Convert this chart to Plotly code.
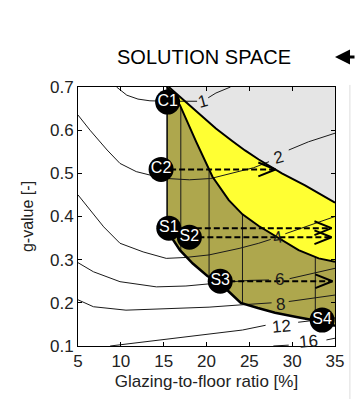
import numpy as np
import plotly.graph_objects as go

# --- region boundaries (glazing-to-floor ratio [%], g-value [-]) ---
upper_x = [15.6, 17.2, 19.2, 21.1, 23.0, 24.5, 26.1, 28.8, 31.5, 35.0]
upper_y = [0.700, 0.672, 0.637, 0.604, 0.575, 0.553, 0.532, 0.500, 0.472, 0.432]

mid_x = [15.4, 16.9, 18.8, 20.7, 22.6, 24.2, 26.1, 28.4, 30.75, 33.1, 35.0]
mid_y = [0.700, 0.658, 0.573, 0.492, 0.438, 0.405, 0.378, 0.350, 0.322, 0.303, 0.295]

low_x = [15.4, 15.9, 16.9, 18.4, 20.1, 21.6, 22.5, 24.0, 26.0, 28.0, 30.5, 33.0, 35.0]
low_y = [0.375, 0.352, 0.322, 0.291, 0.262, 0.245, 0.228, 0.200, 0.188, 0.177, 0.167, 0.158, 0.147]

olive_left = 15.4
olive_grid_x = [17.0, 20.3, 24.2, 32.7]

# --- contour lines (None = break for the inline label) ---
contours = {
    "1": ([9.5, 10.7, 12.0, 13.4, 15.4, 17.0, 18.9, None, 20.2, 21.1, 22.8],
          [0.700, 0.681, 0.672, 0.668, 0.667, 0.667, 0.667, None, 0.675, 0.686, 0.700]),
    "2": ([5, 6.4, 8.4, 9.9, 11.8, 13.4, 15.4, 18, 20.5, 23, 25.5, 27.3, None, 29.6, 31.9, 35],
          [0.635, 0.600, 0.554, 0.523, 0.504, 0.496, 0.488, 0.485, 0.488, 0.500, 0.513, 0.527, None, 0.554, 0.573, 0.593]),
    "4": ([5, 6.4, 8.0, 9.9, 12.6, 15.3, 17.5, 20.3, 23.8, 26.1, 27.5, None, 29.2, 31, 35],
          [0.450, 0.415, 0.376, 0.338, 0.318, 0.303, 0.305, 0.311, 0.326, 0.338, 0.347, None, 0.360, 0.372, 0.400]),
    "6": ([5, 6.8, 9.9, 14.15, 17.6, 20.3, 22.5, 25, 27.3, None, 29.7, 32, 35],
          [0.293, 0.272, 0.249, 0.237, 0.239, 0.243, 0.248, 0.252, 0.253, None, 0.256, 0.266, 0.280]),
    "8": ([5, 6.8, 10.6, 15.7, 20.3, 23.8, 27.6, None, 29.6, 32, 35],
          [0.207, 0.191, 0.183, 0.186, 0.190, 0.195, 0.200, None, 0.203, 0.210, 0.218]),
    "12": ([8.75, 12, 16, 20, 24.2, 26.9, None, 30.7, 33, 35],
           [0.100, 0.108, 0.117, 0.126, 0.137, 0.148, None, 0.155, 0.160, 0.165]),
    "16": ([27.8, 29.6, None, 34.0, 35],
           [0.100, 0.102, None, 0.114, 0.118]),
}
label_x = {"1": 19.5, "2": 28.4, "4": 28.3, "6": 28.5, "8": 28.6, "12": 28.8, "16": 31.9}
label_y = {"1": 0.667, "2": 0.537, "4": 0.352, "6": 0.253, "8": 0.197, "12": 0.146, "16": 0.110}
label_rot = {"1": -15, "2": -15, "4": -10, "6": 0, "8": -5, "12": -5, "16": -5}

# --- design points and their projections ---
pt_names = ["C1", "C2", "S1", "S2", "S3", "S4"]
pt_x = [15.46, 14.7, 15.6, 18.0, 21.6, 33.5]
pt_y = [0.665, 0.509, 0.373, 0.352, 0.250, 0.160]

arrow_from = ["C2", "S1", "S2", "S3"]
arrow_tip_x = [28.05, 34.6, 34.6, 34.7]

FONT = "Liberation Sans, Arial"
INK = "#1a1a1a"

fig = go.Figure()

# grey area above the upper boundary
fig.add_trace(go.Scatter(x=upper_x + [35, upper_x[0]], y=upper_y + [0.7, upper_y[0]],
                         fill="toself", fillcolor="#e5e5e5", line=dict(width=0),
                         mode="lines", hoverinfo="skip"))
# yellow band
fig.add_trace(go.Scatter(x=upper_x + mid_x[::-1] + [upper_x[0]],
                         y=upper_y + mid_y[::-1] + [upper_y[0]],
                         fill="toself", fillcolor="#ffff33", line=dict(width=0),
                         mode="lines", hoverinfo="skip"))
# olive solution space
ox = [olive_left] + low_x + mid_x[::-1]
oy = [mid_y[0]] + low_y + mid_y[::-1]
fig.add_trace(go.Scatter(x=ox, y=oy, fill="toself", fillcolor="#aea74d",
                         line=dict(width=0), mode="lines", hoverinfo="skip"))

# contour lines
for k, (cx, cy) in contours.items():
    fig.add_trace(go.Scatter(x=cx, y=cy, mode="lines", line=dict(color=INK, width=1),
                             connectgaps=False, hoverinfo="skip"))

# thin vertical lines inside the solution space
for gx in olive_grid_x:
    y0 = float(np.interp(gx, low_x, low_y))
    y1 = float(np.interp(gx, mid_x, mid_y))
    fig.add_trace(go.Scatter(x=[gx, gx], y=[y0, y1], mode="lines",
                             line=dict(color=INK, width=1), hoverinfo="skip"))

# thick boundaries
fig.add_trace(go.Scatter(x=upper_x, y=upper_y, mode="lines", line=dict(color="black", width=2)))
fig.add_trace(go.Scatter(x=mid_x, y=mid_y, mode="lines", line=dict(color="black", width=2)))
fig.add_trace(go.Scatter(x=[olive_left, olive_left], y=[mid_y[0], low_y[0]], mode="lines",
                         line=dict(color="black", width=1.5)))
fig.add_trace(go.Scatter(x=low_x, y=low_y, mode="lines", line=dict(color="black", width=2.5)))

# dashed projection arrows with open heads
head_dx, head_dy = 2.0, 0.016
for name, tx in zip(arrow_from, arrow_tip_x):
    i = pt_names.index(name)
    y = pt_y[i]
    fig.add_trace(go.Scatter(x=[pt_x[i], tx], y=[y, y], mode="lines",
                             line=dict(color="black", width=2, dash="6px,3px")))
    fig.add_trace(go.Scatter(x=[tx - head_dx, tx, tx - head_dx], y=[y + head_dy, y, y - head_dy],
                             mode="lines", line=dict(color="black", width=2)))

# design points
fig.add_trace(go.Scatter(x=pt_x, y=pt_y, mode="markers+text", text=pt_names,
                         textposition="middle center",
                         textfont=dict(color="white", size=16, family=FONT),
                         marker=dict(color="black", size=25, line=dict(width=0))))

# contour labels
for k in contours:
    fig.add_annotation(x=label_x[k], y=label_y[k], text=k, showarrow=False,
                       textangle=label_rot[k],
                       font=dict(size=17, color=INK, family=FONT))

# heading and pointer arrow
fig.add_annotation(x=0.49, y=1.116, xref="paper", yref="paper", text="SOLUTION SPACE",
                   xanchor="center", yanchor="middle", showarrow=False,
                   font=dict(size=20, color="black", family=FONT))
fig.add_annotation(x=1.0, y=1.116, xref="paper", yref="paper", ax=40, ay=0, text="",
                   showarrow=True, arrowhead=2, arrowsize=1, arrowwidth=3, arrowcolor="black")
fig.add_shape(type="line", xref="paper", yref="paper", x0=1.058, x1=1.058, y0=1.008, y1=-0.3,
              line=dict(color="#dddddd", width=1))

axis_common = dict(showgrid=False, zeroline=False, showline=True, linecolor="black", linewidth=1,
                   mirror="ticks", ticks="inside", ticklen=4, tickcolor="black",
                   tickfont=dict(size=17, color="#222222", family=FONT))
fig.update_xaxes(range=[5, 35], dtick=5, tick0=5,
                 title=dict(text="Glazing-to-floor ratio [%]", standoff=4,
                            font=dict(size=17, color="#222222", family=FONT)),
                 **axis_common)
fig.update_yaxes(range=[0.1, 0.7], dtick=0.1, tick0=0.1, tickformat=".1f",
                 title=dict(text="g-value [-]", standoff=12,
                            font=dict(size=16, color="#222222", family=FONT)),
                 **axis_common)
fig.update_layout(width=356, height=399, margin=dict(l=78, r=19, t=87, b=53),
                  paper_bgcolor="white", plot_bgcolor="white", showlegend=False)

fig.write_html("out.html")
